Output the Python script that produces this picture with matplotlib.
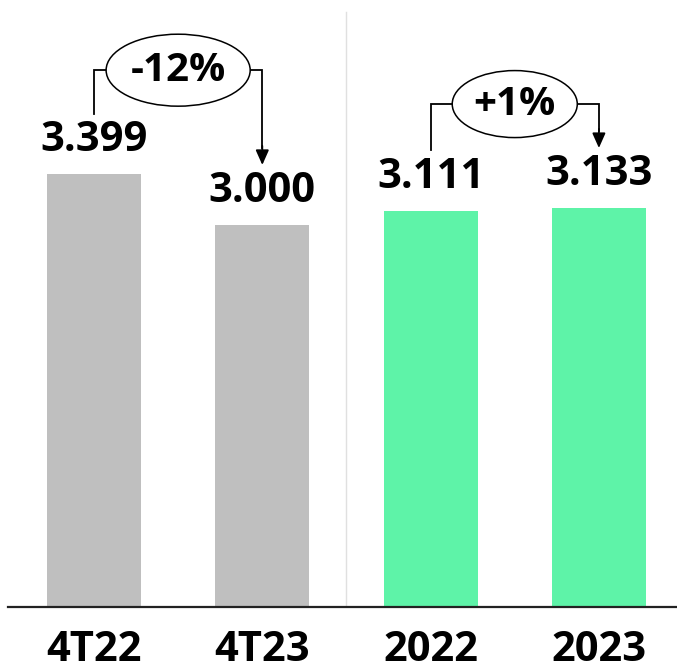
import matplotlib
matplotlib.use("Agg")
import matplotlib.pyplot as plt
from matplotlib import font_manager as fm
from matplotlib.patches import Ellipse

categories = ["4T22", "4T23", "2022", "2023"]
values = [3.399, 3.000, 3.111, 3.133]
value_labels = ["3.399", "3.000", "3.111", "3.133"]
bar_colors = ["#BFBFBF", "#BFBFBF", "#5EF3A8", "#5EF3A8"]
changes = [(0, 1, "-12%"), (2, 3, "+1%")]


def font_file(filename, fallback_family):
    for f in fm.fontManager.ttflist:
        if f.fname.endswith("/" + filename):
            return dict(fontproperties=fm.FontProperties(fname=f.fname))
    return dict(family=fallback_family, fontweight="bold")


bold = font_file("OpenSans-Bold.ttf", "DejaVu Sans")

W, H = 677, 665
fig = plt.figure(figsize=(W / 100, H / 100), dpi=100)
ax = fig.add_axes([8 / W, 58 / H, 669 / W, 607 / H])

xs = list(range(len(categories)))
ax.bar(xs, values, width=0.5585, color=bar_colors, zorder=2)

ax.set_xlim(-0.511, 3.464)
ax.set_ylim(0, 4.765)

for s in ["top", "right", "left"]:
    ax.spines[s].set_visible(False)
ax.spines["bottom"].set_color("#222222")
ax.spines["bottom"].set_linewidth(1.6)
ax.set_yticks([])
ax.set_xticks(xs)
ax.set_xticklabels([])
ax.tick_params(axis="x", length=0)
for x, c in zip(xs, categories):
    t = ax.text(x, -0.425, c, ha="center", va="baseline", clip_on=False, **bold)
    t.set_fontsize(30)

# separator between quarterly and annual groups
ax.plot([1.5, 1.5], [0, 4.67], color="#E0E0E0", lw=1.0, zorder=1)

for x, v, lab in zip(xs, values, value_labels):
    t = ax.text(x, v + 0.1, lab, ha="center", va="bottom", **bold)
    t.set_fontsize(30)

for i, j, txt in changes:
    top = max(values[i], values[j]) + 0.815
    ax.plot([i, i, i + 0.35], [values[i] + 0.475, top, top],
            color="black", lw=1.3, solid_joinstyle="miter")
    ax.plot([j - 0.35, j, j], [top, top, values[j] + 0.6],
            color="black", lw=1.3, solid_joinstyle="miter")
    ax.annotate("", xy=(j, values[j] + 0.47), xytext=(j, values[j] + 0.62),
                arrowprops=dict(arrowstyle="-|>,head_length=0.9,head_width=0.4",
                                color="black", lw=1.3, shrinkA=0, shrinkB=0))
    cx = (i + j) / 2
    ew = 0.856 if len(txt) > 3 else 0.743
    eh = 0.565 if len(txt) > 3 else 0.526
    ax.add_patch(Ellipse((cx, top), ew, eh, facecolor="white",
                         edgecolor="black", lw=1.1, zorder=3))
    t = ax.text(cx, top, txt, ha="center", va="center", zorder=4, **bold)
    t.set_fontsize(29)

fig.savefig("out.png", dpi=100)
